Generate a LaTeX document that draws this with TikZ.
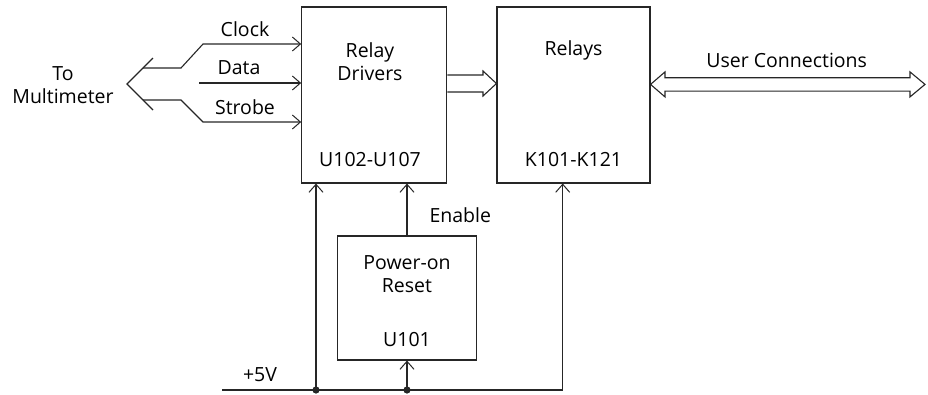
\documentclass[tikz,border=0pt]{standalone}
\usepackage{fontspec}
\setmainfont{Open Sans}
\usetikzlibrary{positioning, arrows.meta}
\tikzset{blk/.style={draw, line width=1.1pt, inner sep=0pt}}
\tikzset{sig/.style={-{Straight Barb[length=8pt, width=14pt, line width=1pt]}, line width=1.1pt}}

\begin{document}
\begin{tikzpicture}[x=1pt, y=-1pt, line width=1.1pt, black!85,
    every node/.style={font=\fontsize{19.5}{23}\selectfont, align=center, inner sep=2pt, text=black}]
    \useasboundingbox (0,0) rectangle (928,394);

    % Blocks
    \node[blk, minimum width=145pt, minimum height=176pt] (drv) at (374.2,95) {};
    \node[blk, minimum width=153pt, minimum height=176pt] (rly) at (573.5,95) {};
    \node[blk, minimum width=139pt, minimum height=124pt] (por) at (407,298) {};

    \node (drvname) at (370,61.5) {Relay\\Drivers};
    \node (drvref) at (370,160) {U102-U107};
    \node (rlyname) at (573.5,50) {Relays};
    \node (rlyref) at (573.5,160) {K101-K121};
    \node (porname) at (407,274.5) {Power-on\\Reset};
    \node (porref) at (407,340) {U101};

    % Buses
    \draw (drv.east |- 0,75) -- (483,75) -- (483,71) -- (rly.west |- 0,83.5)
        -- (483,96) -- (483,92) -- (drv.east |- 0,92);
    \coordinate (usr) at (925,84.4);
    \draw (rly.east |- usr) -- (665,71.9) -- (665,77.7) -- (910,77.7) -- (910,71.9)
        -- (usr) -- (910,96.9) -- (910,91.1) -- (665,91.1) -- (665,96.9) -- cycle;
    \node (userlbl) at (786.7,60) {User Connections};

    % Multimeter link
    \node (meter) at (63,84.7) {To\\Multimeter};
    \coordinate (fork) at (127,84);
    \coordinate (forkup) at (153,58);
    \coordinate (forklo) at (153,110);
    \draw (forkup) -- (fork) -- (forklo);
    \draw[sig] (143,68) -- (181,68) -- (203,44) -- (drv.west |- 0,44);
    \draw[sig] (199,83) -- (drv.west |- 0,83);
    \draw[sig] (143,100) -- (181,100) -- (203,122) -- (drv.west |- 0,122);
    \node (clk) at (245,29) {Clock};
    \node (dat) at (239,68) {Data};
    \node (stb) at (245,107) {Strobe};

    % Supply
    \coordinate (vin) at (222,390);
    \coordinate (r1) at (316,390);
    \coordinate (r2) at (por.south |- vin);
    \coordinate (r3) at (562.7,390);
    \node (vcc) at (260,375) {+5V};
    \draw[sig] (vin) -- (r3) -- (r3 |- rly.south);
    \draw[sig] (r1) -- (r1 |- drv.south);
    \draw[sig] (r2) -- (por.south);
    \fill (r1) circle (3.6);
    \fill (r2) circle (3.6);

    % Enable
    \draw[sig] (por.north) -- (por.north |- drv.south);
    \node[right] (en) at (427,215) {Enable};
\end{tikzpicture}
\end{document}
